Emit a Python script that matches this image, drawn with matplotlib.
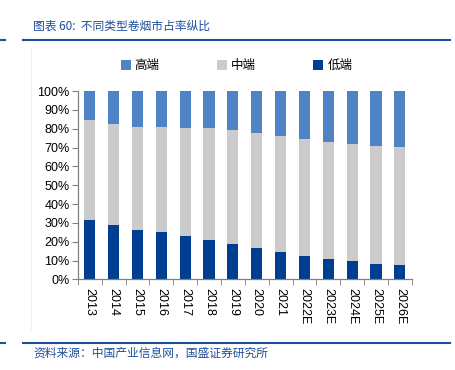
import numpy as np
import matplotlib.pyplot as plt
from matplotlib.lines import Line2D

plt.rcParams['font.family'] = ['Liberation Sans', 'Noto Sans CJK SC', 'DejaVu Sans']

years = ['2013', '2014', '2015', '2016', '2017', '2018', '2019', '2020', '2021',
         '2022E', '2023E', '2024E', '2025E', '2026E']
low = [31.4, 29.0, 26.2, 25.3, 23.2, 21.1, 18.9, 16.5, 14.4, 12.4, 10.8, 9.6, 8.3, 7.4]
low_mid = [84.6, 82.6, 81.0, 81.0, 80.3, 80.1, 79.4, 77.8, 75.9, 74.5, 73.0, 71.8, 70.9, 70.2]
mid = [t - l for t, l in zip(low_mid, low)]
high = [100 - t for t in low_mid]

c_high = '#4F83C6'
c_mid = '#CBCBCB'
c_low = '#003E92'
title_blue = '#1F4E9B'

fig = plt.figure(figsize=(4.55, 3.7), dpi=100)
ax = fig.add_axes([0.171, 0.245, 0.734, 0.509])

x = np.arange(len(years))
w = 0.47
ax.bar(x, low, w, color=c_low, label='低端')
ax.bar(x, mid, w, bottom=low, color=c_mid, label='中端')
ax.bar(x, high, w, bottom=low_mid, color=c_high, label='高端')

ax.set_xlim(-0.5, len(years) - 0.5)
ax.set_ylim(0, 100)
ax.set_yticks(np.arange(0, 101, 10))
ax.set_yticklabels([f'{v}%' for v in range(0, 101, 10)], fontsize=9)
ax.set_xticks(x)
ax.set_xticklabels(years, rotation=-90, fontsize=9)
ax.tick_params(axis='x', length=0, pad=6)
ax.set_xticks(np.arange(-0.5, len(years), 1), minor=True)
ax.tick_params(axis='x', which='minor', length=4, color='#808080', direction='out')
ax.tick_params(axis='y', length=4, color='#808080', direction='out', pad=2)
for s in ['top', 'right']:
    ax.spines[s].set_visible(False)
for s in ['left', 'bottom']:
    ax.spines[s].set_color('#808080')
    ax.spines[s].set_linewidth(0.9)

handles, labels = ax.get_legend_handles_labels()
order = [2, 1, 0]
leg = fig.legend([handles[i] for i in order], [labels[i] for i in order],
                 loc='center', bbox_to_anchor=(0.52, 0.822), ncol=3, frameon=False,
                 handlelength=0.8, handleheight=0.8, handletextpad=0.3,
                 columnspacing=4.6, prop={'family': ['Noto Sans CJK SC'], 'size': 9})

# header and footer
fig.text(0.073, 0.93, '图表 60:  不同类型卷烟市占率纵比', fontsize=8.5, color=title_blue,
         style='italic', family=['Noto Sans CJK SC'], va='center')
fig.add_artist(Line2D([0.05, 0.99], [0.892, 0.892], color=title_blue, lw=1.5))
fig.add_artist(Line2D([0.0, 0.011], [0.892, 0.892], color=title_blue, lw=1.5))
fig.add_artist(Line2D([0.05, 0.99], [0.072, 0.072], color=title_blue, lw=1.5))
fig.add_artist(Line2D([0.0, 0.011], [0.072, 0.072], color=title_blue, lw=1.5))
fig.add_artist(Line2D([0.068, 0.068], [0.11, 0.87], color='#EEEEEE', lw=0.8))
fig.text(0.073, 0.045, '资料来源：中国产业信息网，国盛证券研究所', fontsize=8.5, color=title_blue,
         style='italic', family=['Noto Sans CJK SC'], va='center')

fig.savefig('out.png', dpi=100)
